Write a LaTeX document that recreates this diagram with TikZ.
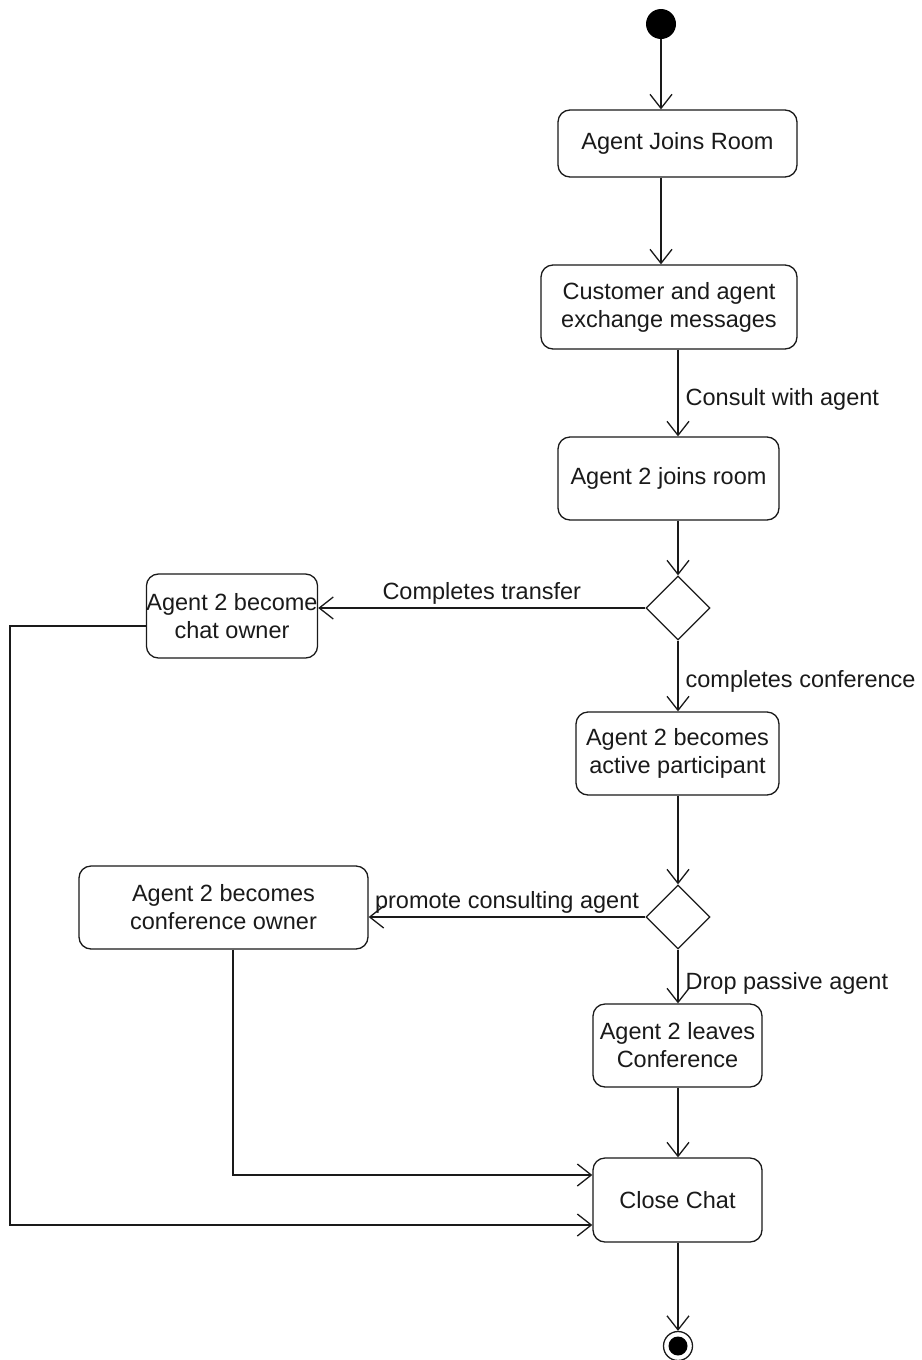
\documentclass[tikz,border=0pt]{standalone}
\usepackage{fontspec}
\setmainfont{Liberation Sans}
\usetikzlibrary{shapes.geometric,arrows.meta,calc}
\definecolor{ink}{HTML}{1A1A1A}
\tikzset{
  act/.style={draw=ink, rounded corners=12pt, line width=1.3pt, align=center,
    inner sep=0pt, font=\fontsize{23.5}{28}\selectfont, text=ink},
  choice/.style={draw=ink, diamond, line width=1.3pt, minimum width=64pt,
    minimum height=64pt, inner sep=0pt},
  flow/.style={draw=ink, line width=1.3pt,
    -{Straight Barb[length=14pt,width=22pt,line width=1.3pt]}},
  guard/.style={font=\fontsize{23.5}{28}\selectfont, text=ink, inner sep=0pt},
}
\begin{document}
\begin{tikzpicture}[x=1pt,y=-1pt]
\useasboundingbox (0,0) rectangle (921,1360);
\fill[white] (0,0) rectangle (921,1360);

% initial and final nodes
\node[circle, fill=black, minimum size=30pt, inner sep=0pt] (init) at (661,24) {};
\node[circle, draw=ink, line width=1.3pt, minimum size=29pt, inner sep=0pt] (fin) at (678,1346) {};
\node[circle, fill=black, minimum size=19pt, inner sep=0pt] (finin) at (678,1346) {};

% activities
\node[act, minimum width=239pt, minimum height=67pt] (join) at (677.5,143.5) {Agent Joins Room};
\node[act, minimum width=256pt, minimum height=84pt] (chat) at (669,307) {Customer and agent\\exchange messages};
\node[act, minimum width=221pt, minimum height=83pt] (join2) at (668.5,478.5) {Agent 2 joins room};
\node[act, minimum width=170pt, minimum height=84pt] (owner) at (232,616) {Agent 2 become\\chat owner};
\node[act, minimum width=203pt, minimum height=83pt] (active) at (677.5,753.5) {Agent 2 becomes\\active participant};
\node[act, minimum width=289pt, minimum height=83pt] (confown) at (223.5,907.5) {Agent 2 becomes\\conference owner};
\node[act, minimum width=169pt, minimum height=83pt] (leave) at (677.5,1045.5) {Agent 2 leaves\\Conference};
\node[act, minimum width=169pt, minimum height=84pt] (close) at (677.5,1200) {Close Chat};

% decisions
\node[choice] (d1) at (678,608) {};
\node[choice] (d2) at (678,917) {};

% left return path corner
\coordinate (lft) at (10,1225);

% main flow
\draw[flow] (init) -- (init |- join.north);
\draw[flow] (join.south -| init) -- (chat.north -| init);
\draw[flow] (chat.south -| d1) -- (join2.north -| d1)
  node[guard, anchor=west, pos=0.57, xshift=7pt] {Consult with agent};
\draw[flow] (join2.south -| d1) -- (d1.north);
\draw[flow] (d1.west) -- (d1.west -| owner.east)
  node[guard, pos=0.5, yshift=15pt] {Completes transfer};
\draw[flow] (d1.south) -- (active.north -| d1)
  node[guard, anchor=west, pos=0.58, xshift=7pt] {completes conference};
\draw[flow] (active.south -| d2) -- (d2.north);
\draw[flow] (d2.west) -- (d2.west -| confown.east)
  node[guard, pos=0.5, yshift=15pt] {promote consulting agent};
\draw[flow] (d2.south) -- (leave.north -| d2)
  node[guard, anchor=west, pos=0.62, xshift=7pt] {Drop passive agent};
\draw[flow] (leave.south -| d2) -- (close.north -| d2);
\draw[flow] (close.south -| d2) -- (fin.north);

% return paths into Close Chat
\draw[flow] ($(confown.south)+(9.5,0)$) |- ($(close.west)+(0,-25)$);
\draw[flow] ($(owner.west)+(0,10)$) -| (lft) -- ($(close.west)+(0,25)$);
\end{tikzpicture}
\end{document}
